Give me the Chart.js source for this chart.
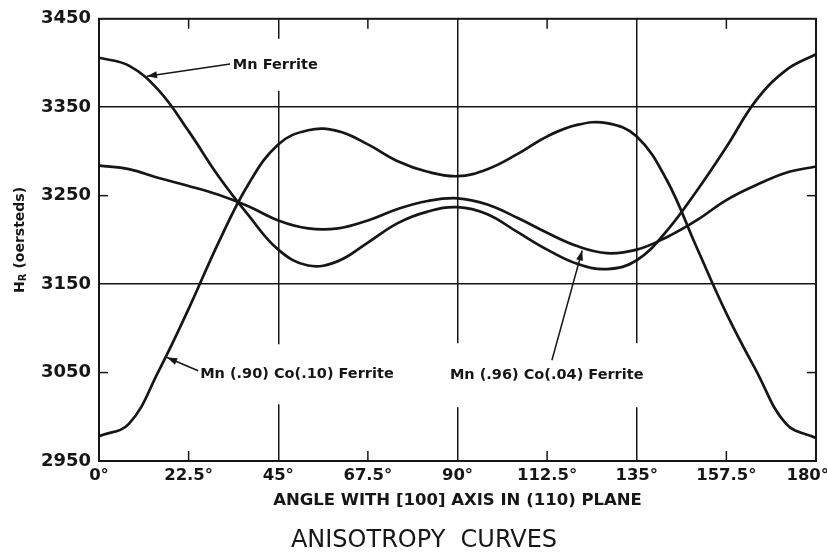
<!DOCTYPE html>
<html>
<head>
<meta charset="utf-8">
<style>
  html, body { margin: 0; padding: 0; background: #fff; }
  canvas { display: block; }
</style>
</head>
<body>
<canvas id="chart" width="827" height="553"></canvas>
<script src="https://cdn.jsdelivr.net/npm/chart.js@4.4.0/dist/chart.umd.min.js"></script>
<script>
// angle with [100] axis, degrees
var angles = [0, 7.5, 15, 22.5, 30, 37.5, 45, 52.5, 60, 67.5, 75, 82.5, 90,
  97.5, 105, 112.5, 120, 127.5, 135, 142.5, 150, 157.5, 165, 172.5, 180];

// H_R in oersteds
var mnFerrite = [3406, 3397, 3369, 3323, 3272, 3228, 3189, 3171, 3176, 3197, 3219, 3232, 3237,
  3229, 3209, 3189, 3173, 3167, 3177, 3210, 3255, 3305, 3358, 3392, 3410];
var mn96co04 = [3284, 3280, 3270, 3261, 3251, 3238, 3222, 3213, 3213, 3222, 3235, 3244, 3247,
  3240, 3225, 3208, 3193, 3185, 3189, 3203, 3222, 3245, 3262, 3276, 3283];
var mn90co10 = [2978, 2992, 3052, 3122, 3197, 3263, 3308, 3324, 3323, 3308, 3289, 3277, 3272,
  3280, 3297, 3317, 3330, 3332, 3317, 3268, 3192, 3117, 3052, 2992, 2976];

var xTickValues = [0, 22.5, 45, 67.5, 90, 112.5, 135, 157.5, 180];
var xTickLabels = ['0°', '22.5°', '45°', '67.5°', '90°', '112.5°', '135°', '157.5°', '180°'];
var yTickValues = [2950, 3050, 3150, 3250, 3350, 3450];
var xGridAt = [45, 90, 135];
var yGridAt = [3150, 3350];

var ink = '#161616';

// curve labels: text anchor, arrow start and tip in data units
var notes = [
  { text: 'Mn Ferrite', at: [33.6, 3398], from: [32.9, 3399], tip: [12.05, 3385], gap: 26 },
  { text: 'Mn (.90) Co(.10) Ferrite', at: [25.4, 3048], from: [24.9, 3052], tip: [17.1, 3067], gap: 30 },
  { text: 'Mn (.96) Co(.04) Ferrite', at: [88.1, 3047], from: [113.7, 3064], tip: [121.3, 3188], gap: 32 }
];

function pts(ys) {
  return angles.map(function (a, i) { return { x: a, y: ys[i] }; });
}

function line(ctx, x1, y1, x2, y2) {
  ctx.beginPath();
  ctx.moveTo(x1, y1);
  ctx.lineTo(x2, y2);
  ctx.stroke();
}

var noteFont = 'bold 14.5px "DejaVu Sans"';

var paper = {
  id: 'paper',
  beforeDatasetsDraw: function (chart) {
    var ctx = chart.ctx, a = chart.chartArea, x = chart.scales.x, y = chart.scales.y;
    ctx.save();
    // breaks in the grid lines behind the labels
    ctx.fillStyle = '#fff';
    ctx.font = noteFont;
    notes.forEach(function (n) {
      var px = x.getPixelForValue(n.at[0]), py = y.getPixelForValue(n.at[1]);
      var w = ctx.measureText(n.text).width;
      ctx.fillRect(px - 4, py - n.gap, w + 8, n.gap * 2);
    });
    // short inward ticks
    ctx.strokeStyle = ink;
    ctx.lineWidth = 1.5;
    xTickValues.forEach(function (v) {
      if (xGridAt.indexOf(v) >= 0 || v === x.min || v === x.max) return;
      var px = x.getPixelForValue(v);
      line(ctx, px, a.top, px, a.top + 10);
      line(ctx, px, a.bottom, px, a.bottom - 10);
    });
    yTickValues.forEach(function (v) {
      if (yGridAt.indexOf(v) >= 0 || v === y.min || v === y.max) return;
      var py = y.getPixelForValue(v);
      line(ctx, a.left, py, a.left + 9, py);
      line(ctx, a.right, py, a.right - 9, py);
    });
    // frame
    ctx.lineWidth = 2;
    ctx.strokeRect(a.left, a.top, a.right - a.left, a.bottom - a.top);
    ctx.restore();
  },
  afterDatasetsDraw: function (chart) {
    var ctx = chart.ctx, a = chart.chartArea, x = chart.scales.x, y = chart.scales.y;
    ctx.save();
    ctx.fillStyle = ink;
    ctx.strokeStyle = ink;
    ctx.lineWidth = 1.5;
    ctx.font = noteFont;
    ctx.textBaseline = 'middle';
    ctx.textAlign = 'left';
    notes.forEach(function (n) {
      ctx.fillText(n.text, x.getPixelForValue(n.at[0]), y.getPixelForValue(n.at[1]));
      var x1 = x.getPixelForValue(n.from[0]), y1 = y.getPixelForValue(n.from[1]);
      var x2 = x.getPixelForValue(n.tip[0]), y2 = y.getPixelForValue(n.tip[1]);
      line(ctx, x1, y1, x2, y2);
      var ang = Math.atan2(y2 - y1, x2 - x1);
      ctx.beginPath();
      ctx.moveTo(x2, y2);
      ctx.lineTo(x2 - 10 * Math.cos(ang) + 3.5 * Math.sin(ang), y2 - 10 * Math.sin(ang) - 3.5 * Math.cos(ang));
      ctx.lineTo(x2 - 10 * Math.cos(ang) - 3.5 * Math.sin(ang), y2 - 10 * Math.sin(ang) + 3.5 * Math.cos(ang));
      ctx.closePath();
      ctx.fill();
    });
    // y axis title with subscript R
    ctx.translate(20, (a.top + a.bottom) / 2);
    ctx.rotate(-Math.PI / 2);
    var big = 'bold 14px "DejaVu Sans"', small = 'bold 10px "DejaVu Sans"';
    ctx.font = big;
    var wH = ctx.measureText('H').width, wRest = ctx.measureText(' (oersteds)').width;
    ctx.font = small;
    var wR = ctx.measureText('R').width;
    var sx = -(wH + wR + wRest) / 2;
    ctx.font = big;
    ctx.fillText('H', sx, 0);
    ctx.font = small;
    ctx.fillText('R', sx + wH, 3);
    ctx.font = big;
    ctx.fillText(' (oersteds)', sx + wH + wR, 0);
    ctx.restore();
  }
};

var lineStyle = { borderColor: ink, borderWidth: 2.7, pointRadius: 0, tension: 0.4, fill: false };

new Chart(document.getElementById('chart'), {
  type: 'line',
  data: {
    datasets: [
      Object.assign({ label: 'Mn Ferrite', data: pts(mnFerrite) }, lineStyle),
      Object.assign({ label: 'Mn (.96) Co(.04) Ferrite', data: pts(mn96co04) }, lineStyle),
      Object.assign({ label: 'Mn (.90) Co(.10) Ferrite', data: pts(mn90co10) }, lineStyle)
    ]
  },
  options: {
    responsive: false,
    animation: false,
    devicePixelRatio: 1,
    layout: { padding: { left: 32, right: 11, top: 17, bottom: 0 } },
    plugins: {
      legend: { display: false },
      tooltip: { enabled: false },
      title: {
        display: true,
        position: 'bottom',
        text: 'ANISOTROPY  CURVES',
        color: ink,
        font: { family: 'DejaVu Sans', size: 24, weight: 'normal', lineHeight: 1 },
        padding: { top: 2, bottom: 0 }
      }
    },
    scales: {
      x: {
        type: 'linear',
        min: 0,
        max: 180,
        afterBuildTicks: function (scale) {
          scale.ticks = xTickValues.map(function (v) { return { value: v }; });
        },
        afterFit: function (scale) {
          scale.height = 66;
          scale.paddingLeft = 0;
          scale.paddingRight = 0;
        },
        border: { display: false },
        grid: {
          drawTicks: false,
          lineWidth: 1.5,
          color: function (c) {
            return c.tick && xGridAt.indexOf(c.tick.value) >= 0 ? ink : 'rgba(0,0,0,0)';
          }
        },
        ticks: {
          padding: 5,
          maxRotation: 0,
          autoSkip: false,
          color: ink,
          font: { family: 'DejaVu Sans', size: 16.5, weight: 'bold' },
          callback: function (v, i) {
            var s = xTickLabels[i];
            return i === xTickLabels.length - 1 ? s + '\u2002\u2002' : s;
          }
        },
        title: {
          display: true,
          text: 'ANGLE WITH [100] AXIS IN (110) PLANE',
          color: ink,
          font: { family: 'DejaVu Sans', size: 16.5, weight: 'bold' },
          padding: { top: 0, bottom: 16.6 }
        }
      },
      y: {
        min: 2950,
        max: 3450,
        afterBuildTicks: function (scale) {
          scale.ticks = yTickValues.map(function (v) { return { value: v }; });
        },
        afterFit: function (scale) {
          scale.width = 67;
        },
        border: { display: false },
        grid: {
          drawTicks: false,
          lineWidth: 1.5,
          color: function (c) {
            return c.tick && yGridAt.indexOf(c.tick.value) >= 0 ? ink : 'rgba(0,0,0,0)';
          }
        },
        ticks: {
          padding: 8,
          color: ink,
          font: { family: 'DejaVu Sans', size: 18, weight: 'bold' },
          callback: function (v) { return String(v); }
        }
      }
    }
  },
  plugins: [paper]
});
</script>
</body>
</html>
